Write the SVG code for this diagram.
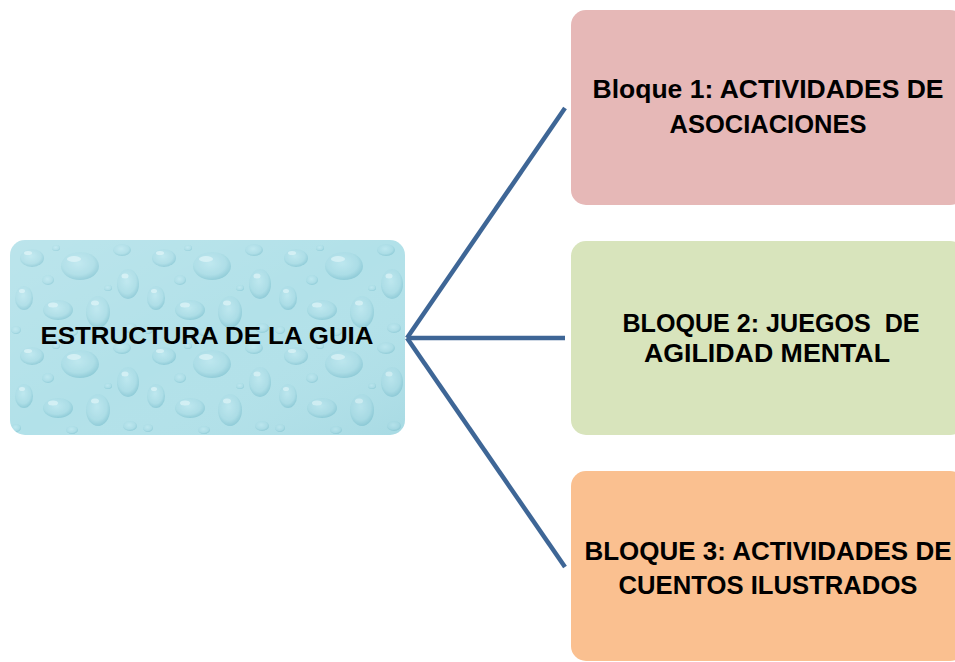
<svg xmlns="http://www.w3.org/2000/svg" width="955" height="662" viewBox="0 0 955 662">
  <style>
    .lbl { font-family: "Liberation Sans", Arial, sans-serif; font-weight: bold; fill: #000; white-space: pre; }
    .big { font-size: 25px; }
    .mid { font-size: 23px; }
    .conn { stroke: #3e6696; stroke-width: 4.5; fill: none; stroke-linecap: butt; }
    .d { fill: url(#dropFill); }
    .h { fill: #e4f7fa; opacity: 0.8; }
  </style>
  <defs>
    <radialGradient id="dropFill" cx="0.45" cy="0.4" r="0.6">
      <stop offset="0" stop-color="#bfe9f0"/>
      <stop offset="0.7" stop-color="#a9dce5"/>
      <stop offset="1" stop-color="#86c6d3"/>
    </radialGradient>
    <linearGradient id="shade" x1="0" y1="0" x2="1" y2="1">
      <stop offset="0" stop-color="#ffffff" stop-opacity="0.12"/>
      <stop offset="0.5" stop-color="#ffffff" stop-opacity="0"/>
      <stop offset="1" stop-color="#5fa9bb" stop-opacity="0.12"/>
    </linearGradient>
    <pattern id="drops" width="132" height="98" patternUnits="userSpaceOnUse" x="10" y="240">
      <rect width="132" height="98" fill="#b2e1e9"/>
      <g opacity="0.8">
        <ellipse class="d" cx="22" cy="18" rx="12" ry="9"/>
        <ellipse class="h" cx="18" cy="13" rx="4" ry="2"/>
        <ellipse class="d" cx="70" cy="26" rx="19" ry="14"/>
        <ellipse class="h" cx="64" cy="19" rx="7" ry="3"/>
        <ellipse class="d" cx="112" cy="10" rx="9" ry="6"/>
        <ellipse class="d" cx="118" cy="44" rx="11" ry="15"/>
        <ellipse class="h" cx="115" cy="36" rx="3.5" ry="2.5"/>
        <ellipse class="d" cx="14" cy="58" rx="9" ry="12"/>
        <ellipse class="h" cx="12" cy="51" rx="3" ry="2"/>
        <ellipse class="d" cx="48" cy="70" rx="15" ry="10"/>
        <ellipse class="h" cx="43" cy="65" rx="5" ry="2.5"/>
        <ellipse class="d" cx="88" cy="72" rx="12" ry="16"/>
        <ellipse class="h" cx="85" cy="63" rx="4" ry="2.5"/>
        <ellipse class="d" cx="38" cy="40" rx="6" ry="5"/>
        <ellipse class="d" cx="98" cy="48" rx="4" ry="3"/>
        <ellipse class="d" cx="62" cy="92" rx="6" ry="4"/>
        <ellipse class="d" cx="120" cy="88" rx="7" ry="5"/>
        <ellipse class="d" cx="6" cy="90" rx="5" ry="4"/>
        <ellipse class="d" cx="46" cy="8" rx="4" ry="3"/>
      </g>
    </pattern>
  </defs>

  <rect width="955" height="662" fill="#ffffff"/>

  <g id="connectors">
    <line class="conn" x1="407" y1="338" x2="565" y2="108"/>
    <line class="conn" x1="407" y1="338" x2="565" y2="338"/>
    <line class="conn" x1="407" y1="338" x2="565" y2="567"/>
  </g>

  <g id="node-root">
    <rect x="10" y="240" width="395" height="195" rx="15" ry="15" fill="url(#drops)"/>
    <rect x="10" y="240" width="395" height="195" rx="15" ry="15" fill="url(#shade)"/>
    <text class="lbl mid" x="207" y="344" text-anchor="middle" textLength="333" lengthAdjust="spacingAndGlyphs">ESTRUCTURA DE LA GUIA</text>
  </g>

  <g id="node-bloque1">
    <rect x="571" y="10" width="394" height="195" rx="15" ry="15" fill="#e6b8b7"/>
    <text class="lbl big" x="768" y="98" text-anchor="middle" textLength="351" lengthAdjust="spacingAndGlyphs">Bloque 1: ACTIVIDADES DE</text>
    <text class="lbl big" x="768" y="133" text-anchor="middle" textLength="197" lengthAdjust="spacingAndGlyphs">ASOCIACIONES</text>
  </g>

  <g id="node-bloque2">
    <rect x="571" y="241" width="394" height="194" rx="15" ry="15" fill="#d8e4bc"/>
    <text class="lbl big" x="771" y="332" text-anchor="middle" textLength="297" lengthAdjust="spacingAndGlyphs">BLOQUE 2: JUEGOS  DE</text>
    <text class="lbl big" x="767" y="362" text-anchor="middle" textLength="246" lengthAdjust="spacingAndGlyphs">AGILIDAD MENTAL</text>
  </g>

  <g id="node-bloque3">
    <rect x="571" y="471" width="394" height="190" rx="15" ry="15" fill="#fac090"/>
    <text class="lbl big" x="768" y="560" text-anchor="middle" textLength="367" lengthAdjust="spacingAndGlyphs">BLOQUE 3: ACTIVIDADES DE</text>
    <text class="lbl big" x="768" y="594" text-anchor="middle" textLength="299" lengthAdjust="spacingAndGlyphs">CUENTOS ILUSTRADOS</text>
  </g>
</svg>
